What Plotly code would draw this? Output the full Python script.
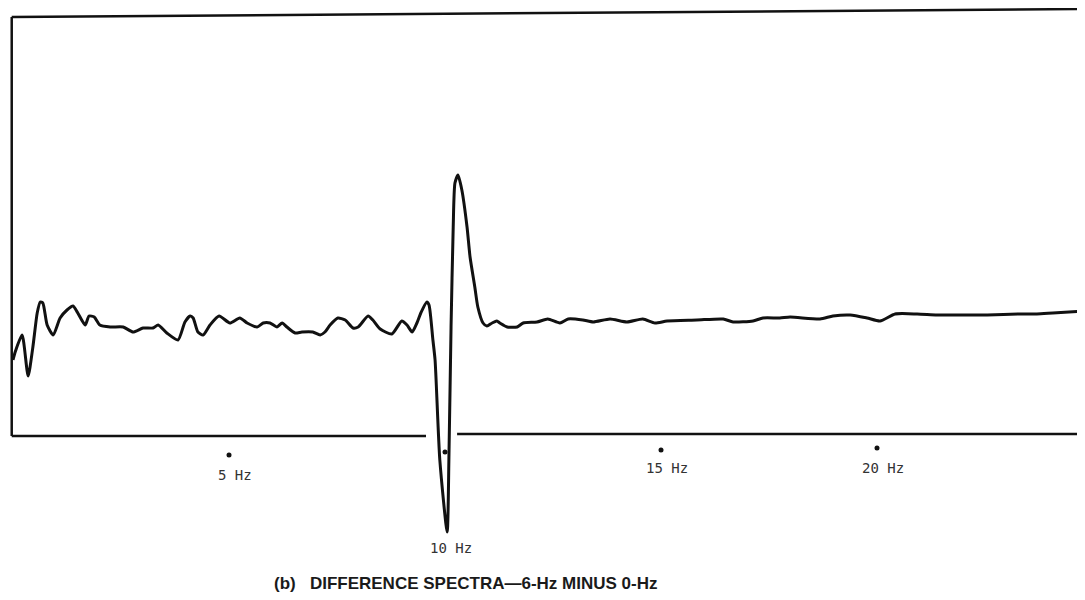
import plotly.graph_objects as go

# Difference spectrum (6-Hz minus 0-Hz), frequency in Hz, amplitude in arbitrary units
freq_hz = [0.00, 0.05, 0.21, 0.35, 0.46, 0.56, 0.63, 0.69, 0.79, 0.93, 1.09, 1.25, 1.39, 1.50,
           1.67, 1.76, 1.88, 2.01, 2.25, 2.55, 2.78, 3.01, 3.24, 3.36, 3.56, 3.82, 3.98, 4.10,
           4.17, 4.28, 4.40, 4.56, 4.77, 5.02, 5.25, 5.42, 5.65, 5.79, 5.95, 6.11, 6.23, 6.34,
           6.53, 6.69, 6.94, 7.11, 7.22, 7.34, 7.52, 7.69, 7.87, 7.99, 8.22, 8.33, 8.50, 8.77,
           9.00, 9.12, 9.24, 9.35, 9.44, 9.58, 9.63, 9.72, 9.77, 9.88, 10.05, 10.09, 10.14,
           10.19, 10.23, 10.30, 10.39, 10.51, 10.58, 10.69, 10.76, 10.88, 10.97, 11.09, 11.20,
           11.27, 11.44, 11.67, 11.81, 12.13, 12.38, 12.66, 12.85, 13.19, 13.43, 13.82, 14.21,
           14.58, 14.86, 15.14, 15.83, 16.44, 16.67, 17.13, 17.36, 17.75, 17.99, 18.68, 18.98,
           19.38, 19.77, 20.07, 20.42, 20.93, 21.39, 21.99, 22.55, 23.31, 23.70, 24.07, 24.81]
amplitude = [76, 84, 101, 60, 89, 123, 134, 133, 111, 101, 118, 126, 130, 123,
             111, 120, 119, 111, 109, 109, 104, 108, 108, 111, 103, 96, 114, 120,
             118, 104, 101, 111, 120, 113, 118, 113, 109, 113, 113, 109, 113, 109,
             103, 104, 104, 101, 104, 111, 118, 116, 108, 109, 120, 116, 107, 102,
             115, 111, 104, 113, 123, 134, 131, 96, 76, -24, -96, -24, 109,
             209, 253, 261, 246, 209, 179, 149, 129, 113, 110, 113, 115,
             113, 109, 109, 113, 114, 117, 113, 117, 116, 114, 117, 114,
             117, 113, 115, 116, 117, 114, 115, 118, 118, 119, 117, 120,
             121, 118, 115, 122, 122, 121, 121, 121, 122, 122, 123, 125]

tick_hz = [5, 10, 15, 20]
tick_labels = ["5 Hz", "10 Hz", "15 Hz", "20 Hz"]
tick_dot_y = [-19, -16, -14, -12]
tick_label_y = [-39, -112, -32, -32]

title_text = "(b)\u00a0\u00a0\u00a0DIFFERENCE SPECTRA\u20146-Hz MINUS 0-Hz"

fig = go.Figure()

fig.add_trace(go.Scatter(
    x=freq_hz, y=amplitude, mode="lines",
    line=dict(color="#111111", width=3, shape="spline", smoothing=0.6),
    hoverinfo="skip", showlegend=False,
))

fig.add_trace(go.Scatter(
    x=tick_hz, y=tick_dot_y, mode="markers",
    marker=dict(color="#111111", size=5),
    hoverinfo="skip", showlegend=False, cliponaxis=False,
))

for hz, lab, ly in zip(tick_hz, tick_labels, tick_label_y):
    fig.add_annotation(x=hz + 0.14, y=ly, xref="x", yref="y", text=lab, showarrow=False,
                       font=dict(family="DejaVu Sans Mono", size=14, color="#333333"))

fig.add_annotation(x=0.425, y=-0.042, xref="paper", yref="paper", text=title_text,
                   showarrow=False, xanchor="center", yanchor="middle",
                   font=dict(family="Liberation Sans", size=17, color="#1a1a1a", weight="bold"))

frame = dict(color="#111111", width=2.5)
# left edge, top edge and the baseline (broken where the trace dips through it)
fig.add_shape(type="line", xref="x", yref="y", x0=-0.03, x1=-0.03, y0=0, y1=419, line=frame)
fig.add_shape(type="line", xref="x", yref="y", x0=-0.03, x1=24.81, y0=419, y1=427, line=frame)
fig.add_shape(type="line", xref="x", yref="y", x0=-0.03, x1=9.56, y0=0, y1=0, line=frame)
fig.add_shape(type="line", xref="x", yref="y", x0=10.28, x1=24.81, y0=2, y1=2, line=frame)

fig.update_layout(
    width=1077, height=592,
    margin=dict(l=0, r=0, t=0, b=40),
    paper_bgcolor="white", plot_bgcolor="white",
    xaxis=dict(range=[-0.116, 24.815], visible=False, fixedrange=True),
    yaxis=dict(range=[-124, 428], visible=False, fixedrange=True),
)

fig.write_html("out.html")
